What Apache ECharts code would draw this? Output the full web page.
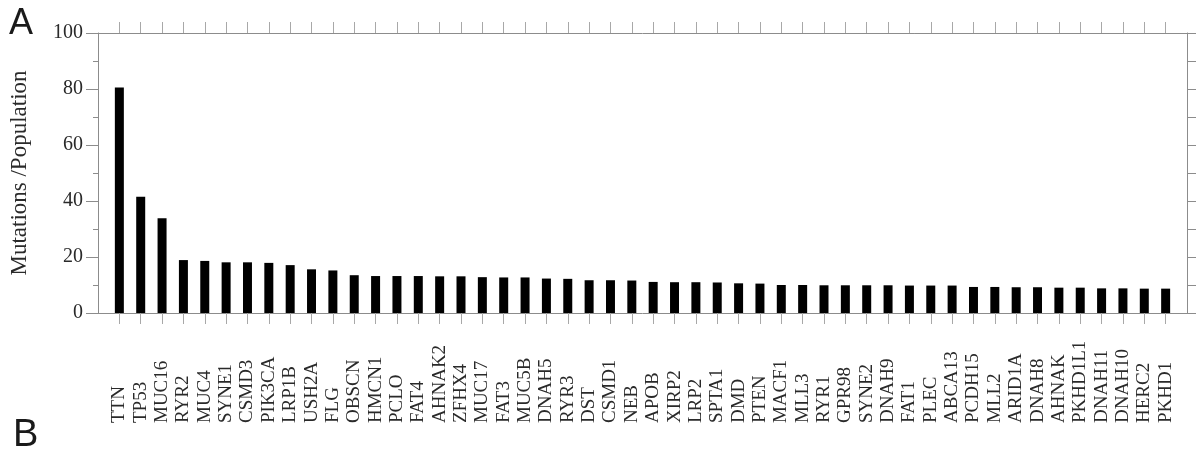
<!DOCTYPE html>
<html>
<head>
<meta charset="utf-8">
<script src="https://cdn.jsdelivr.net/npm/echarts@6/dist/echarts.min.js"></script>
<style>
  html, body { margin: 0; padding: 0; background: #fff; }
  #chart { width: 1198px; height: 458px; }
</style>
</head>
<body>
<div id="chart"></div>
<script>
// Most frequently mutated genes
const genes = [
  'TTN', 'TP53', 'MUC16', 'RYR2', 'MUC4', 'SYNE1', 'CSMD3', 'PIK3CA', 'LRP1B', 'USH2A',
  'FLG', 'OBSCN', 'HMCN1', 'PCLO', 'FAT4', 'AHNAK2', 'ZFHX4', 'MUC17', 'FAT3', 'MUC5B',
  'DNAH5', 'RYR3', 'DST', 'CSMD1', 'NEB', 'APOB', 'XIRP2', 'LRP2', 'SPTA1', 'DMD',
  'PTEN', 'MACF1', 'MLL3', 'RYR1', 'GPR98', 'SYNE2', 'DNAH9', 'FAT1', 'PLEC', 'ABCA13',
  'PCDH15', 'MLL2', 'ARID1A', 'DNAH8', 'AHNAK', 'PKHD1L1', 'DNAH11', 'DNAH10', 'HERC2', 'PKHD1'
];

// Mutations per population (%)
const mutationRate = [
  80.5, 41.5, 33.8, 18.9, 18.6, 18.1, 18.1, 17.9, 17.1, 15.6,
  15.2, 13.5, 13.2, 13.2, 13.2, 13.1, 13.1, 12.8, 12.7, 12.7,
  12.3, 12.2, 11.7, 11.7, 11.6, 11.1, 11.0, 11.0, 10.9, 10.6,
  10.5, 10.0, 10.0, 9.9, 9.9, 9.9, 9.9, 9.8, 9.8, 9.8,
  9.3, 9.3, 9.2, 9.2, 9.05, 9.05, 8.8, 8.8, 8.7, 8.7
];

const yTicks = [0, 20, 40, 60, 80, 100];

// an empty slot on each side keeps the bars clear of the frame
const axisCats = [''].concat(genes, ['']);
const axisVals = ['-'].concat(mutationRate, ['-']);

const axisGrey = '#8c8c8c';
const serif = '"Liberation Serif", "DejaVu Serif", serif';
const notBlank = (idx, val) => val !== '';

const chart = echarts.init(document.getElementById('chart'), null, { renderer: 'canvas' });

chart.setOption({
  backgroundColor: '#ffffff',
  animation: false,
  grid: { left: 97, right: 11, top: 33, bottom: 145, containLabel: false },
  xAxis: [
    {
      type: 'category',
      position: 'bottom',
      data: axisCats,
      boundaryGap: false,
      axisLine: { show: true, onZero: false, lineStyle: { color: axisGrey, width: 1 } },
      axisTick: { show: true, inside: false, length: 11, interval: notBlank,
                  lineStyle: { color: '#a8a8a8', width: 1 } },
      axisLabel: {
        show: true, interval: 0, rotate: 90, align: 'left', verticalAlign: 'middle',
        margin: 110, color: '#2a2a2a', fontFamily: serif, fontSize: 19
      },
      splitLine: { show: false }
    },
    {
      type: 'category',
      position: 'top',
      data: axisCats,
      boundaryGap: false,
      axisLine: { show: true, onZero: false, lineStyle: { color: axisGrey, width: 1 } },
      axisTick: { show: true, inside: false, length: 11, interval: notBlank,
                  lineStyle: { color: '#a8a8a8', width: 1 } },
      axisLabel: { show: false },
      splitLine: { show: false }
    }
  ],
  yAxis: [
    {
      type: 'value',
      position: 'left',
      min: yTicks[0],
      max: yTicks[yTicks.length - 1],
      interval: yTicks[1] - yTicks[0],
      name: 'Mutations /Population',
      nameLocation: 'middle',
      nameRotate: 90,
      nameGap: 67,
      nameTextStyle: { color: '#2a2a2a', fontFamily: serif, fontSize: 23 },
      axisLine: { show: true, onZero: false, lineStyle: { color: axisGrey, width: 1 } },
      axisTick: { show: true, inside: false, length: 12, lineStyle: { color: axisGrey, width: 1 } },
      minorTick: { show: true, splitNumber: 2, length: 5, lineStyle: { color: axisGrey, width: 1 } },
      axisLabel: { show: true, margin: 15, color: '#2a2a2a', fontFamily: serif, fontSize: 20 },
      splitLine: { show: false },
      minorSplitLine: { show: false }
    },
    {
      type: 'value',
      position: 'right',
      min: 0,
      max: 100,
      interval: 10,
      axisLine: { show: true, onZero: false, lineStyle: { color: axisGrey, width: 1 } },
      axisTick: { show: true, inside: false, length: 9, lineStyle: { color: axisGrey, width: 1 } },
      axisLabel: { show: false },
      splitLine: { show: false }
    }
  ],
  series: [
    {
      type: 'bar',
      xAxisIndex: 0,
      yAxisIndex: 0,
      data: axisVals,
      barWidth: 9,
      itemStyle: { color: '#000000' },
      emphasis: { disabled: true }
    }
  ],
  graphic: [
    {
      type: 'text', left: 9, top: 6,
      style: { text: 'A', fill: '#1a1a1a', font: '36px "Liberation Sans", "DejaVu Sans", sans-serif' }
    },
    {
      type: 'text', left: 13, top: 417,
      style: { text: 'B', fill: '#1a1a1a', font: '38px "Liberation Sans", "DejaVu Sans", sans-serif' }
    }
  ]
});
</script>
</body>
</html>
